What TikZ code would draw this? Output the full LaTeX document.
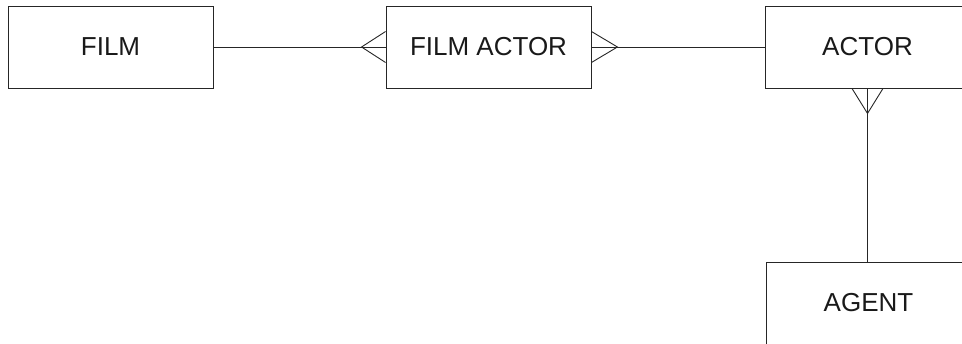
\documentclass[tikz,border=0pt]{standalone}
\usepackage{fontspec}
\setmainfont{Liberation Sans}
\begin{document}
\begin{tikzpicture}[x=1pt,y=-1pt,
  entity/.style={draw=black!85, line width=0.9pt, rectangle, minimum width=205pt, minimum height=82pt, inner sep=0pt, font=\fontsize{26}{31}\selectfont, text=black!90},
  conn/.style={draw=black!85, line width=0.9pt}]
\useasboundingbox (0,0) rectangle (962,343);
\clip (0,0) rectangle (962,343);
\node[entity] (film) at (110.5,47) {FILM};
\node[entity] (fa) at (488.5,47) {FILM ACTOR};
\node[entity] (actor) at (867.5,47) {ACTOR};
\node[entity] (agent) at (868.5,303) {AGENT};
\draw[conn] (film.east) -- (fa.west);
\draw[conn] (fa.east) -- (actor.west);
\draw[conn] (actor.south) -- (actor.south |- agent.north);
% crow's feet
\draw[conn] ([yshift=-15.5pt]fa.west) -- ([xshift=-24pt]fa.west) -- ([yshift=15.5pt]fa.west);
\draw[conn] ([yshift=-15.5pt]fa.east) -- ([xshift=26pt]fa.east) -- ([yshift=15.5pt]fa.east);
\draw[conn] ([xshift=-15.5pt]actor.south) -- ([yshift=-25pt]actor.south) -- ([xshift=15.5pt]actor.south);
\end{tikzpicture}
\end{document}
